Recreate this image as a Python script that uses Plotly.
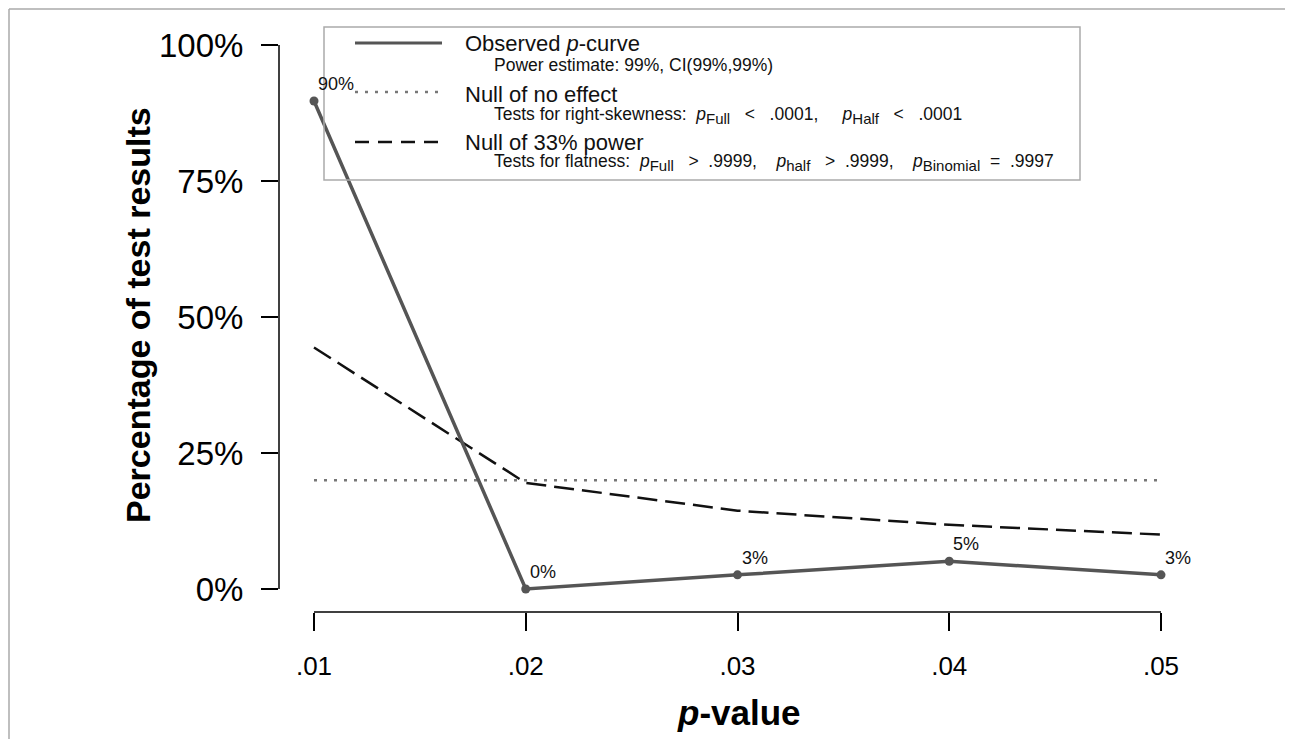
import plotly.graph_objects as go

# ---- data ----
p_values = [0.01, 0.02, 0.03, 0.04, 0.05]
x_tick_labels = [".01", ".02", ".03", ".04", ".05"]
observed = [89.7, 0.0, 2.6, 5.1, 2.6]
null_no_effect = [20, 20, 20, 20, 20]
null_33_power = [44.4, 19.5, 14.4, 11.8, 10.0]
y_ticks = [0, 25, 50, 75, 100]
y_tick_labels = ["0%", "25%", "50%", "75%", "100%"]

# page offset of the plot div (default body margin)
OFF = 8
W, H = 1293 - OFF, 739 - OFF          # figure size
# plot area in page pixels
PL, PR, PT, PB = 279, 1250, 30, 612
L, T = PL - OFF, PT - OFF
R, B = W - (PR - OFF), H - (PB - OFF)
PW, PH = PR - PL, PB - PT

def px(xp):   # page pixel x -> paper
    return (xp - PL) / PW

def py(yp):   # page pixel y -> paper
    return (PB - yp) / PH

FONT = "Liberation Sans, Arial, Helvetica, sans-serif"
C_OBS = "#555555"
C_DOT = "#777777"
C_DASH = "#111111"

# x range: .01 -> px 314, .05 -> px 1161
ppu = (1161 - 314) / 0.04
x0 = 0.01 - (314 - PL) / ppu
x1 = 0.05 + (PR - 1161) / ppu
# y range: 0 -> px 589, 100 -> px 45
ppy = (589 - 45) / 100
y0 = -(PB - 589) / ppy
y1 = 100 + (45 - PT) / ppy

fig = go.Figure()
fig.add_trace(go.Scatter(x=p_values, y=null_no_effect, mode="lines",
                         line=dict(color=C_DOT, width=2.5, dash="3px,7px"),
                         showlegend=False, hoverinfo="skip"))
fig.add_trace(go.Scatter(x=p_values, y=null_33_power, mode="lines",
                         line=dict(color=C_DASH, width=2.5, dash="20px,8px"),
                         showlegend=False, hoverinfo="skip"))
fig.add_trace(go.Scatter(x=p_values, y=observed, mode="lines+markers",
                         line=dict(color=C_OBS, width=3.5),
                         marker=dict(color=C_OBS, size=9),
                         showlegend=False))

annotations = []
for xv, yv in zip(p_values, observed):
    annotations.append(dict(x=xv, y=yv, xref="x", yref="y",
                            text=f"{round(yv)}%", showarrow=False,
                            xanchor="left", yanchor="bottom",
                            xshift=2, yshift=5,
                            font=dict(family=FONT, size=18, color="#111")))

def sp(n):
    return "&nbsp;" * n

def psub(s):
    return f"<i>p</i><sub><span style='font-size:15px'>{s}</span></sub>"

# legend texts
leg_title_x = px(463)
leg_sub_x = px(492)
legend_rows = [
    (43, "Observed <i>p</i>-curve", 65, "Power estimate: 99%, CI(99%,99%)"),
    (94, "Null of no effect", 115,
     "Tests for right-skewness:" + sp(2) + psub("Full") + sp(3) + "<" + sp(3) + ".0001,"
     + sp(5) + psub("Half") + sp(3) + "<" + sp(3) + ".0001"),
    (142, "Null of 33% power", 163,
     "Tests for flatness:" + sp(2) + psub("Full") + sp(3) + ">" + sp(2) + ".9999,"
     + sp(4) + psub("half") + sp(3) + ">" + sp(2) + ".9999,"
     + sp(4) + psub("Binomial") + sp(2) + "=" + sp(2) + ".9997"),
]
for ty, title, sy, sub in legend_rows:
    annotations.append(dict(x=leg_title_x, y=py(ty), xref="paper", yref="paper",
                            text=title, showarrow=False, xanchor="left", yanchor="middle",
                            font=dict(family=FONT, size=22, color="#111")))
    annotations.append(dict(x=leg_sub_x, y=py(sy), xref="paper", yref="paper",
                            text=sub, showarrow=False, xanchor="left", yanchor="middle",
                            font=dict(family=FONT, size=17.5, color="#111")))

# axis titles
annotations.append(dict(x=px(138), y=py(315), xref="paper", yref="paper",
                        text="<b>Percentage of test results</b>", textangle=-90,
                        showarrow=False, xanchor="center", yanchor="middle",
                        font=dict(family=FONT, size=34, color="#000")))
annotations.append(dict(x=px(739), y=py(712), xref="paper", yref="paper",
                        text="<b><i>p</i>-value</b>",
                        showarrow=False, xanchor="center", yanchor="middle",
                        font=dict(family=FONT, size=35, color="#000")))

shapes = [
    # axis lines (R style, only spanning ticks)
    dict(type="line", xref="paper", yref="y", x0=0, x1=0,
         y0=y_ticks[0], y1=y_ticks[-1], line=dict(color="#000", width=1.5)),
    dict(type="line", xref="x", yref="paper", x0=p_values[0], x1=p_values[-1],
         y0=0, y1=0, line=dict(color="#000", width=1.5)),
    # legend box
    dict(type="rect", xref="paper", yref="paper", x0=px(324), x1=px(1080),
         y0=py(27), y1=py(180), line=dict(color="#aaaaaa", width=1.5)),
    # legend symbols
    dict(type="line", xref="paper", yref="paper", x0=px(355), x1=px(442),
         y0=py(43), y1=py(43), line=dict(color=C_OBS, width=3)),
    dict(type="line", xref="paper", yref="paper", x0=px(355), x1=px(442),
         y0=py(92), y1=py(92), line=dict(color=C_DOT, width=2.5, dash="3px,7px")),
    dict(type="line", xref="paper", yref="paper", x0=px(355), x1=px(442),
         y0=py(142), y1=py(142), line=dict(color=C_DASH, width=2.5, dash="14px,9px")),
    # outer frame (left and top edges)
    dict(type="line", xref="paper", yref="paper", x0=px(9), x1=px(9),
         y0=py(9), y1=py(739), line=dict(color="#aaaaaa", width=1.5)),
    dict(type="line", xref="paper", yref="paper", x0=px(9), x1=px(1293),
         y0=py(9), y1=py(9), line=dict(color="#aaaaaa", width=1.5)),
]

fig.update_layout(
    width=W, height=H,
    margin=dict(l=L, r=R, t=T, b=B, pad=0),
    plot_bgcolor="white", paper_bgcolor="white",
    showlegend=False,
    annotations=annotations,
    shapes=shapes,
    xaxis=dict(range=[x0, x1], tickvals=p_values, ticktext=x_tick_labels,
               ticks="outside", ticklen=18, tickwidth=1.5, tickcolor="#000",
               showline=False, showgrid=False, zeroline=False,
               ticklabelstandoff=13,
               tickfont=dict(family=FONT, size=26, color="#000")),
    yaxis=dict(range=[y0, y1], tickvals=y_ticks, ticktext=y_tick_labels,
               ticks="outside", ticklen=17, tickwidth=1.5, tickcolor="#000",
               showline=False, showgrid=False, zeroline=False,
               ticklabelstandoff=11,
               tickfont=dict(family=FONT, size=33, color="#000")),
)

fig.write_html("out.html")
